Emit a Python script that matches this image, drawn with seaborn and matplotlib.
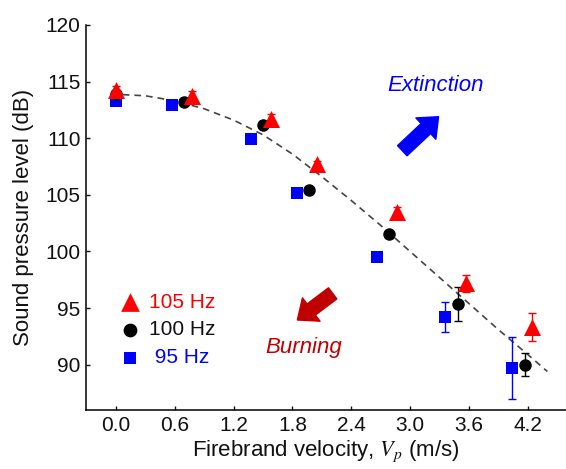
import numpy as np
import pandas as pd
import matplotlib
matplotlib.use("Agg")
import matplotlib.pyplot as plt
import seaborn as sns

# Firebrand velocity (m/s) and sound pressure level (dB) for each frequency
v_105 = [0.00, 0.78, 1.58, 2.05, 2.87, 3.57, 4.24]
spl_105 = [114.3, 113.7, 111.7, 107.7, 103.5, 97.2, 93.3]
err_105 = [0.3, 0.5, 0.4, 0.3, 0.4, 0.75, 1.25]

v_100 = [0.00, 0.69, 1.50, 1.97, 2.78, 3.49, 4.17]
spl_100 = [113.9, 113.2, 111.2, 105.4, 101.5, 95.4, 90.0]
err_100 = [0.3, 0.3, 0.3, 0.3, 0.3, 1.5, 1.0]

v_95 = [0.00, 0.57, 1.38, 1.85, 2.66, 3.36, 4.04]
spl_95 = [113.3, 112.9, 109.9, 105.2, 99.5, 94.2, 89.7]
err_95 = [0.2, 0.2, 0.2, 0.2, 0.3, 1.3, 2.75]

# dashed fit curve
fit_v = [-0.05, 0.3, 0.6, 0.9, 1.2, 1.5, 1.8, 2.1, 2.4, 2.7, 3.0, 3.3, 3.6, 3.9, 4.2, 4.4]
fit_spl = [113.9, 113.75, 113.3, 112.6, 111.6, 110.3, 108.6, 106.6, 104.5, 102.3, 100.0, 97.7, 95.4, 93.1, 90.9, 89.4]

x_ticks = [0.0, 0.6, 1.2, 1.8, 2.4, 3.0, 3.6, 4.2]
y_ticks = [90, 95, 100, 105, 110, 115, 120]

series = [
    ("95 Hz", " 95 Hz", v_95, spl_95, err_95, "#0000ff", "s", 64),
    ("100 Hz", "100 Hz", v_100, spl_100, err_100, "#000000", "o", 81),
    ("105 Hz", "105 Hz", v_105, spl_105, err_105, "#ff0000", "^", 150),
]

ARROW = "simple,head_length=1.25,head_width=2.1,tail_width=1.0"

sns.set_style("ticks")
plt.rcParams["font.family"] = ["Liberation Sans", "DejaVu Sans"]
plt.rcParams["mathtext.fontset"] = "stix"

fig = plt.figure(figsize=(5.66, 4.69), dpi=100)
ax = fig.add_axes([86 / 566, 59 / 469, 480 / 566, 385 / 469])

fit_df = pd.DataFrame({"v": fit_v, "spl": fit_spl})
sns.lineplot(data=fit_df, x="v", y="spl", ax=ax, color="#444444", lw=1.2,
             linestyle=(0, (4, 3)), zorder=1)

for name, label, v, spl, err, color, marker, size in series:
    df = pd.DataFrame({"v": v, "spl": spl})
    ax.errorbar(v, spl, yerr=err, fmt="none", ecolor=color, elinewidth=1.0,
                capsize=3, capthick=1.0, zorder=2)
    sns.scatterplot(data=df, x="v", y="spl", ax=ax, color=color, marker=marker,
                    s=size, edgecolor=color, linewidth=0, label=label, zorder=3)

ax.set_xlim(-0.306, 4.59)
ax.set_ylim(86, 120)
ax.set_xticks(x_ticks)
ax.set_xticklabels([f"{t:.1f}" for t in x_ticks])
ax.set_yticks(y_ticks)
ax.tick_params(direction="in", length=3, width=1, labelsize=15, pad=4, colors="#111111")
for side in ["top", "right"]:
    ax.spines[side].set_visible(False)
for side in ["left", "bottom"]:
    ax.spines[side].set_linewidth(1.1)
    ax.spines[side].set_color("black")

ax.set_xlabel("Firebrand velocity, $V_p$ (m/s)", fontsize=16, labelpad=3, color="#111111")
ax.set_ylabel("Sound pressure level (dB)", fontsize=16, labelpad=8, color="#111111")

# arrows and region labels
ax.annotate("", xy=(3.29, 111.9), xytext=(2.92, 108.9),
            arrowprops=dict(arrowstyle=ARROW, color="#0000ff", shrinkA=0, shrinkB=0,
                            mutation_scale=10))
ax.text(3.26, 114.7, "Extinction", color="#0000ff", fontsize=16, style="italic",
        ha="center", va="center")
ax.annotate("", xy=(1.85, 93.95), xytext=(2.21, 96.3),
            arrowprops=dict(arrowstyle=ARROW, color="#c00000", shrinkA=0, shrinkB=0,
                            mutation_scale=10))
ax.text(1.91, 91.5, "Burning", color="#c00000", fontsize=16, style="italic",
        ha="center", va="center")

handles, labels = ax.get_legend_handles_labels()
order = [2, 1, 0]
leg = ax.legend([handles[i] for i in order], [labels[i] for i in order],
                loc="upper left", bbox_to_anchor=(0.069, 0.305), frameon=False,
                fontsize=15, borderpad=0, borderaxespad=0, handlelength=1.0,
                handletextpad=0.45, labelspacing=0.42, markerscale=1.1,
                labelcolor=["#ff0000", "#111111", "#0000ff"])

fig.savefig("out.png", dpi=100)
